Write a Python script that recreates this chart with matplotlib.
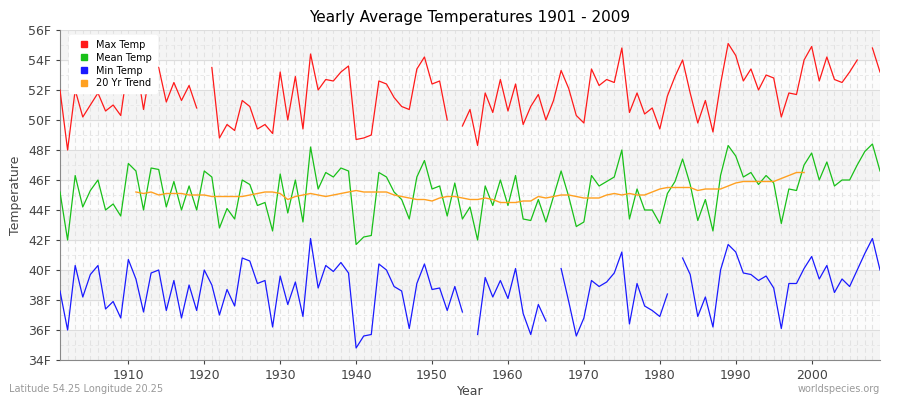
import matplotlib
matplotlib.use("Agg")
import matplotlib.pyplot as plt
import numpy as np

nan = np.nan
years = np.arange(1901, 2010)

max_temp = [
    52.0, 48.0, 52.0, 50.2, 51.0, 51.8, 50.6, 51.0, 50.3, 53.8,
    53.9, 50.7, 53.7, 53.5, 51.2, 52.5, 51.3, 52.3, 50.8, nan,
    53.5, 48.8, 49.7, 49.3, 51.3, 50.9, 49.4, 49.7, 49.1, 53.2,
    50.0, 52.9, 49.4, 54.4, 52.0, 52.7, 52.6, 53.2, 53.6, 48.7,
    48.8, 49.0, 52.6, 52.4, 51.5, 50.9, 50.7, 53.4, 54.2, 52.4,
    52.6, 50.0, nan, 49.6, 50.7, 48.3, 51.8, 50.5, 52.7, 50.6,
    52.4, 49.7, 50.9, 51.7, 50.0, 51.3, 53.3, 52.1, 50.3, 49.8,
    53.4, 52.3, 52.7, 52.5, 54.8, 50.5, 51.8, 50.4, 50.8, 49.4,
    51.6, 52.9, 54.0, 51.8, 49.8, 51.3, 49.2, 52.4, 55.1, 54.3,
    52.6, 53.4, 52.0, 53.0, 52.8, 50.2, 51.8, 51.7, 54.0, 54.9,
    52.6, 54.2, 52.7, 52.5, 53.2, 54.0, nan, 54.8, 53.2,
]
mean_temp = [
    45.2, 42.0, 46.3, 44.2, 45.3, 46.0, 44.0, 44.4, 43.6, 47.1,
    46.6, 44.0, 46.8, 46.7, 44.2, 45.9, 44.0, 45.6, 44.0, 46.6,
    46.2, 42.8, 44.1, 43.4, 46.0, 45.7, 44.3, 44.5, 42.6, 46.4,
    43.8, 46.0, 43.2, 48.2, 45.4, 46.5, 46.2, 46.8, 46.6, 41.7,
    42.2, 42.3, 46.5, 46.2, 45.2, 44.7, 43.4, 46.2, 47.3, 45.4,
    45.6, 43.6, 45.8, 43.4, 44.2, 42.0, 45.6, 44.3, 46.0, 44.3,
    46.3, 43.4, 43.3, 44.7, 43.2, 44.9, 46.6, 44.9, 42.9, 43.2,
    46.3, 45.6, 45.9, 46.2, 48.0, 43.4, 45.4, 44.0, 44.0, 43.1,
    45.1, 45.9, 47.4, 45.7, 43.3, 44.7, 42.6, 46.3, 48.3, 47.6,
    46.2, 46.5, 45.7, 46.3, 45.8, 43.1, 45.4, 45.3, 47.0, 47.8,
    46.0, 47.2, 45.6, 46.0, 46.0, 47.0, 47.9, 48.4, 46.6,
]
min_temp = [
    38.6, 36.0, 40.3, 38.2, 39.7, 40.3, 37.4, 37.9, 36.8, 40.7,
    39.4, 37.2, 39.8, 40.0, 37.3, 39.3, 36.8, 39.0, 37.3, 40.0,
    39.0, 37.0, 38.7, 37.6, 40.8, 40.6, 39.1, 39.3, 36.2, 39.6,
    37.7, 39.2, 36.9, 42.1, 38.8, 40.3, 39.9, 40.5, 39.8, 34.8,
    35.6, 35.7, 40.4, 40.0, 38.9, 38.6, 36.1, 39.1, 40.4, 38.7,
    38.8, 37.3, 38.9, 37.2, nan, 35.7, 39.5, 38.2, 39.3, 38.1,
    40.1, 37.1, 35.7, 37.7, 36.6, nan, 40.1, 37.9, 35.6, 36.8,
    39.3, 38.9, 39.2, 39.8, 41.2, 36.4, 39.1, 37.6, 37.3, 36.9,
    38.4, nan, 40.8, 39.7, 36.9, 38.2, 36.2, 40.0, 41.7, 41.2,
    39.8, 39.7, 39.3, 39.6, 38.8, 36.1, 39.1, 39.1, 40.1, 40.9,
    39.4, 40.3, 38.5, 39.4, 38.9, 40.0, 41.1, 42.1, 40.0,
]
trend_years = np.arange(1911, 2000)
trend = [
    45.2, 45.1, 45.2, 45.0, 45.1, 45.1, 45.1, 45.0, 45.0, 45.0,
    44.9, 44.9, 44.9, 44.9, 44.9, 45.0, 45.1, 45.2, 45.2, 45.1,
    44.7, 44.9, 45.0, 45.1, 45.0, 44.9, 45.0, 45.1, 45.2, 45.3,
    45.2, 45.2, 45.2, 45.2, 45.0, 44.9, 44.8, 44.7, 44.7, 44.6,
    44.8, 44.9, 44.9, 44.8, 44.7, 44.7, 44.8, 44.7, 44.5, 44.5,
    44.5, 44.6, 44.6, 44.9, 44.8, 44.9, 45.0, 45.0, 44.9, 44.8,
    44.8, 44.8, 45.0, 45.1, 45.0, 45.1, 45.0, 45.0, 45.2, 45.4,
    45.5, 45.5, 45.5, 45.5, 45.3, 45.4, 45.4, 45.4, 45.6, 45.8,
    45.9, 45.9, 45.9, 45.9, 45.9, 46.1, 46.3, 46.5, 46.5,
]
y_ticks = np.arange(34, 57, 2)
x_ticks = np.arange(1910, 2001, 10)

fig = plt.figure(figsize=(9, 4), dpi=100)
ax = fig.add_axes([60 / 900, 40 / 400, 820 / 900, 330 / 400])

# alternating horizontal bands
for i, lo in enumerate(y_ticks[:-1]):
    ax.axhspan(lo, lo + 2, color="#f4f4f4" if i % 2 == 0 else "#fcfcfc", zorder=0)
for yr in years:
    ax.axvline(yr, color="#e2e2e2", lw=0.8, ls=(0, (4, 3)), zorder=1)
for t in y_ticks:
    ax.axhline(t, color="#dddddd", lw=0.8, zorder=1)
    ax.axhline(t + 1, color="#e6e6e6", lw=0.6, ls=(0, (4, 3)), zorder=1)

ax.plot(years, max_temp, color="#ff1a1a", lw=0.9, zorder=3, label="Max Temp")
ax.plot(years, mean_temp, color="#19c019", lw=0.9, zorder=3, label="Mean Temp")
ax.plot(years, min_temp, color="#1a1aff", lw=0.9, zorder=3, label="Min Temp")
ax.plot(trend_years, trend, color="#ffa020", lw=1.0, zorder=3, label="20 Yr Trend")

ax.set_xlim(1901, 2009)
ax.set_ylim(34, 56)
ax.set_yticks(y_ticks)
ax.set_yticklabels([f"{t}F" for t in y_ticks])
ax.set_xticks(x_ticks)
ax.tick_params(labelsize=9, colors="#444444", length=3)
for side in ["top", "right"]:
    ax.spines[side].set_visible(False)
for side in ["left", "bottom"]:
    ax.spines[side].set_color("#888888")

ax.set_title("Yearly Average Temperatures 1901 - 2009", fontsize=11, pad=6)
ax.set_xlabel("Year", fontsize=9, color="#444444", labelpad=2)
ax.set_ylabel("Temperature", fontsize=9, color="#444444")

handles = [plt.Line2D([], [], marker="s", ls="", color=c, markersize=4)
           for c in ["#ff1a1a", "#19c019", "#1a1aff", "#ffa020"]]
ax.legend(handles, ["Max Temp", "Mean Temp", "Min Temp", "20 Yr Trend"],
          loc="upper left", fontsize=7, frameon=True, framealpha=1,
          edgecolor="white", handletextpad=0.3, borderpad=0.5,
          labelspacing=0.3, bbox_to_anchor=(0.005, 1.0))

fig.text(0.01, 0.02, "Latitude 54.25 Longitude 20.25", fontsize=7, color="#999999")
fig.text(0.978, 0.02, "worldspecies.org", fontsize=7, color="#999999", ha="right")

fig.savefig("out.png", dpi=100)
